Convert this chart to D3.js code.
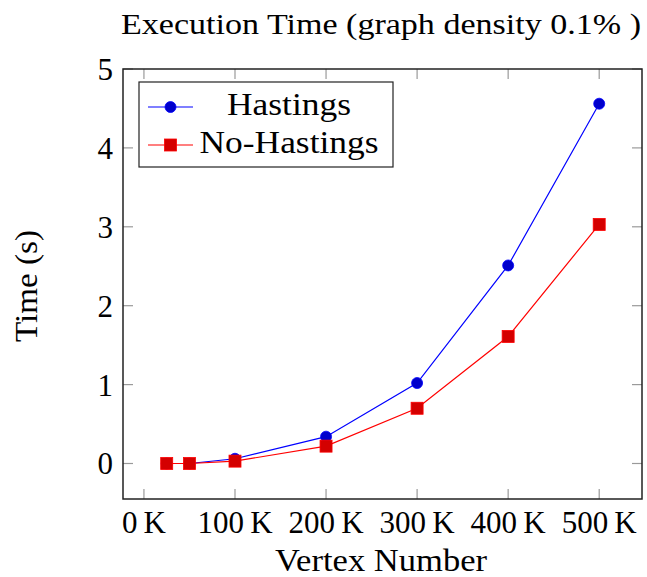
<!DOCTYPE html>
<html>
<head>
<meta charset="utf-8">
<script src="https://cdn.jsdelivr.net/npm/d3@7"></script>
<style>
  body { margin: 0; background: #fff; }
  text { font-family: "Liberation Serif", "DejaVu Serif", serif; fill: #000; }
</style>
</head>
<body>
<script>
// data (vertex count in K, time in s)
var vertices = [25, 50, 100, 200, 300, 400, 500];
var hastings = [0.0, 0.0, 0.06, 0.34, 1.02, 2.51, 4.56];
var noHastings = [0.0, 0.0, 0.03, 0.22, 0.70, 1.61, 3.03];
var xTicks = [0, 100, 200, 300, 400, 500];
var yTicks = [0, 1, 2, 3, 4, 5];

var width = 647, height = 577;
var margin = {top: 69, right: 5, bottom: 78, left: 123};

var svg = d3.select("body").append("svg")
    .attr("width", width)
    .attr("height", height);

var x = d3.scaleLinear()
    .domain([-23, 547])
    .range([margin.left, width - margin.right]);

var y = d3.scaleLinear()
    .domain([-0.45, 5.0])
    .range([height - margin.bottom, margin.top]);

var tickLen = 10;

// ticks on all four sides, pointing in (pgfplots style)
var axes = svg.append("g").attr("stroke", "#9a9a9a").attr("stroke-width", 1.2);
xTicks.forEach(function(t) {
    axes.append("line").attr("x1", x(t)).attr("x2", x(t))
        .attr("y1", y.range()[0]).attr("y2", y.range()[0] - tickLen);
    axes.append("line").attr("x1", x(t)).attr("x2", x(t))
        .attr("y1", y.range()[1]).attr("y2", y.range()[1] + tickLen);
});
yTicks.forEach(function(t) {
    axes.append("line").attr("y1", y(t)).attr("y2", y(t))
        .attr("x1", x.range()[0]).attr("x2", x.range()[0] + tickLen);
    axes.append("line").attr("y1", y(t)).attr("y2", y(t))
        .attr("x1", x.range()[1]).attr("x2", x.range()[1] - tickLen);
});

// frame
svg.append("rect")
    .attr("x", x.range()[0])
    .attr("y", y.range()[1])
    .attr("width", x.range()[1] - x.range()[0])
    .attr("height", y.range()[0] - y.range()[1])
    .attr("fill", "none")
    .attr("stroke", "#222")
    .attr("stroke-width", 1.5);

// tick labels
svg.append("g").selectAll("text")
    .data(xTicks)
    .enter().append("text")
    .attr("x", function(d) { return x(d); })
    .attr("y", y.range()[0] + 34)
    .attr("text-anchor", "middle")
    .attr("font-size", 31)
    .text(function(d) { return d + "\u2009K"; });

svg.append("g").selectAll("text")
    .data(yTicks)
    .enter().append("text")
    .attr("x", x.range()[0] - 10)
    .attr("y", function(d) { return y(d) + 11; })
    .attr("text-anchor", "end")
    .attr("font-size", 31)
    .text(function(d) { return d; });

// axis titles
svg.append("text")
    .attr("x", 381)
    .attr("y", 571)
    .attr("text-anchor", "middle")
    .attr("font-size", 32)
    .attr("textLength", 212)
    .attr("lengthAdjust", "spacingAndGlyphs")
    .text("Vertex Number");

svg.append("text")
    .attr("transform", "translate(37,286) rotate(-90)")
    .attr("text-anchor", "middle")
    .attr("font-size", 32)
    .attr("textLength", 112)
    .attr("lengthAdjust", "spacingAndGlyphs")
    .text("Time (s)");

svg.append("text")
    .attr("x", 381)
    .attr("y", 34)
    .attr("text-anchor", "middle")
    .attr("font-size", 30)
    .attr("textLength", 520)
    .attr("lengthAdjust", "spacingAndGlyphs")
    .text("Execution Time (graph density 0.1% )");

// series
var series = [
    {name: "Hastings", width: 124, values: hastings, line: "#0000ff", mark: "#0000cc", shape: "circle"},
    {name: "No-Hastings", width: 179, values: noHastings, line: "#ff0000", mark: "#d40000", shape: "square"}
];

var line = d3.line()
    .x(function(d) { return x(d[0]); })
    .y(function(d) { return y(d[1]); });

function drawMark(g, s, cx, cy) {
    if (s.shape == "circle") {
        g.append("circle").attr("cx", cx).attr("cy", cy).attr("r", 5.5)
            .attr("fill", s.mark).attr("stroke", s.line).attr("stroke-width", 0.8);
    } else {
        g.append("rect").attr("x", cx - 6).attr("y", cy - 6)
            .attr("width", 12).attr("height", 12)
            .attr("fill", s.mark).attr("stroke", s.line).attr("stroke-width", 0.8);
    }
}

series.forEach(function(s) {
    var pts = vertices.map(function(v, i) { return [v, s.values[i]]; });
    svg.append("path")
        .datum(pts)
        .attr("fill", "none")
        .attr("stroke", s.line)
        .attr("stroke-width", 1.2)
        .attr("d", line);
    var g = svg.append("g");
    pts.forEach(function(p) { drawMark(g, s, x(p[0]), y(p[1])); });
});

// legend
var legend = svg.append("g");
legend.append("rect")
    .attr("x", 139).attr("y", 82)
    .attr("width", 254).attr("height", 85)
    .attr("fill", "#fff")
    .attr("stroke", "#222")
    .attr("stroke-width", 1.2);

series.forEach(function(s, i) {
    var cy = 107 + i * 38;
    legend.append("line")
        .attr("x1", 148).attr("x2", 193)
        .attr("y1", cy).attr("y2", cy)
        .attr("stroke", s.line).attr("stroke-width", 1.2);
    drawMark(legend, s, 170.5, cy);
    legend.append("text")
        .attr("x", 289)
        .attr("y", cy + 8)
        .attr("text-anchor", "middle")
        .attr("font-size", 32)
        .attr("textLength", s.width)
        .attr("lengthAdjust", "spacingAndGlyphs")
        .text(s.name);
});
</script>
</body>
</html>
